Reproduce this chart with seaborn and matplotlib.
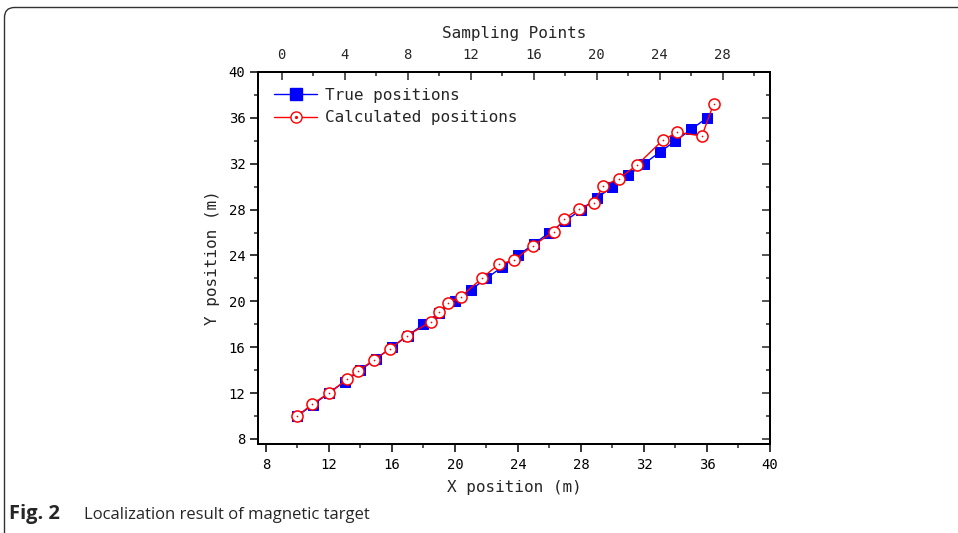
import matplotlib
matplotlib.use("Agg")
import matplotlib.pyplot as plt
import matplotlib.transforms as mtransforms
from matplotlib.patches import FancyBboxPatch
from matplotlib.lines import Line2D
from matplotlib.legend_handler import HandlerTuple
from matplotlib.ticker import MultipleLocator
import pandas as pd
import seaborn as sns

# ---- data ----
true_x = [10, 11, 12, 13, 14, 15, 16, 17, 18, 19, 20, 21, 22, 23, 24, 25, 26,
          27, 28, 29, 30, 31, 32, 33, 34, 35, 36]
true_y = [10, 11, 12, 13, 14, 15, 16, 17, 18, 19, 20, 21, 22, 23, 24, 25, 26,
          27, 28, 29, 30, 31, 32, 33, 34, 35, 36]
calc_x = [10.0, 10.92, 11.98, 13.18, 13.84, 14.86, 15.89, 16.95, 18.48, 19.02,
          19.56, 20.38, 21.71, 22.77, 23.76, 24.95, 26.26, 26.94, 27.85, 28.8,
          29.42, 30.4, 31.56, 33.18, 34.1, 35.68, 36.42]
calc_y = [10.0, 11.02, 11.98, 13.23, 13.93, 14.89, 15.87, 17.0, 18.23, 19.05,
          19.83, 20.41, 22.01, 23.23, 23.6, 24.85, 26.07, 27.18, 28.05, 28.6,
          30.07, 30.7, 31.89, 34.04, 34.74, 34.42, 37.23]
x_ticks = [8, 12, 16, 20, 24, 28, 32, 36, 40]
y_ticks = [8, 12, 16, 20, 24, 28, 32, 36, 40]
top_ticks = [0, 4, 8, 12, 16, 20, 24, 28]

df_true = pd.DataFrame({"x": true_x, "y": true_y})
df_calc = pd.DataFrame({"x": calc_x, "y": calc_y})

sns.set_style("ticks")
plt.rcParams["font.family"] = ["DejaVu Sans Mono"]

fig = plt.figure(figsize=(9.58, 5.33), dpi=100)
W, H = 958, 533
ax = fig.add_axes([258 / W, 1 - 444 / H, (770 - 258) / W, (444 - 72) / H])

BLUE = "#0000ff"
RED = "#ff0000"

sns.lineplot(data=df_true, x="x", y="y", ax=ax, sort=False, color=BLUE,
             lw=1, marker="s", markersize=7, markeredgecolor=BLUE,
             markerfacecolor=BLUE, zorder=3)
sns.lineplot(data=df_calc, x="x", y="y", ax=ax, sort=False, color=RED,
             lw=1, marker="o", markersize=8, markeredgecolor=RED,
             markerfacecolor="white", markeredgewidth=1.1, zorder=4)
sns.scatterplot(data=df_calc, x="x", y="y", ax=ax, color=RED, s=1.5,
                linewidth=0, zorder=5)

ax.set_xlim(7.5, 40)
ax.set_ylim(7.56, 40)
ax.set_xticks(x_ticks)
ax.set_yticks(y_ticks)
ax.xaxis.set_minor_locator(MultipleLocator(2))
ax.yaxis.set_minor_locator(MultipleLocator(2))
ax.tick_params(which="major", direction="out", length=5.5, width=1.1,
               labelsize=10, colors="black")
ax.tick_params(axis="x", which="major", pad=4.5)
ax.tick_params(which="minor", direction="out", length=3, width=1.1)
ax.set_xlabel("X position (m)", fontsize=11.5, labelpad=6)
ax.set_ylabel("Y position (m)", fontsize=11.5, labelpad=6)

for s in ax.spines.values():
    s.set_visible(True)
    s.set_linewidth(1.3)
    s.set_color("black")

# top axis: sampling points
ax2 = ax.twiny()
ax2.set_xlim(-1.5, 31)
ax2.set_xticks(top_ticks)
ax2.xaxis.set_minor_locator(MultipleLocator(2))
ax2.tick_params(which="major", direction="in", length=5.5, width=1.1,
                labelsize=10, pad=7.5)
ax2.tick_params(which="minor", direction="in", length=3, width=1.1)
ax2.set_xlabel("Sampling Points", fontsize=11.5, labelpad=7)

# right axis: inward ticks, no labels
ax3 = ax.twinx()
ax3.set_ylim(ax.get_ylim())
ax3.set_yticks(y_ticks)
ax3.yaxis.set_minor_locator(MultipleLocator(2))
ax3.tick_params(which="major", direction="in", length=5.5, width=1.1,
                labelright=False)
ax3.tick_params(which="minor", direction="in", length=3, width=1.1)
for a in (ax2, ax3):
    for s in a.spines.values():
        s.set_linewidth(1.3)
        s.set_color("black")

# legend
h_true = Line2D([], [], color=BLUE, lw=1, marker="s", markersize=8,
                markerfacecolor=BLUE, markeredgecolor=BLUE)
h_circ = Line2D([], [], color=RED, lw=1, marker="o", markersize=8,
                markerfacecolor="white", markeredgecolor=RED)
h_dot = Line2D([], [], color=RED, lw=0, marker="o", markersize=1.3)
ax.legend([h_true, (h_circ, h_dot)], ["True positions", "Calculated positions"],
          handler_map={tuple: HandlerTuple(ndivide=1)},
          loc="upper left", bbox_to_anchor=(0.0, 1.0), frameon=False,
          fontsize=11.5, handlelength=2.7, handletextpad=0.5,
          labelspacing=0.45, borderaxespad=0.6)

# frame around figure panel
frame = FancyBboxPatch((4.5, -60), 1100, 533 - 7.5 + 60,
                       boxstyle="round,pad=0,rounding_size=10",
                       transform=mtransforms.IdentityTransform(),
                       facecolor="none", edgecolor="#333333", lw=1.0,
                       clip_on=False)
fig.patches.append(frame)

# caption
fig.text(9 / W, 1 - 519 / H, "Fig. 2", fontsize=14.5, fontweight="bold",
         family="Open Sans", va="baseline", ha="left")
fig.text(84 / W, 1 - 519 / H, "Localization result of magnetic target",
         fontsize=12, family="Open Sans", va="baseline", ha="left")

fig.savefig("out.png", dpi=100)
